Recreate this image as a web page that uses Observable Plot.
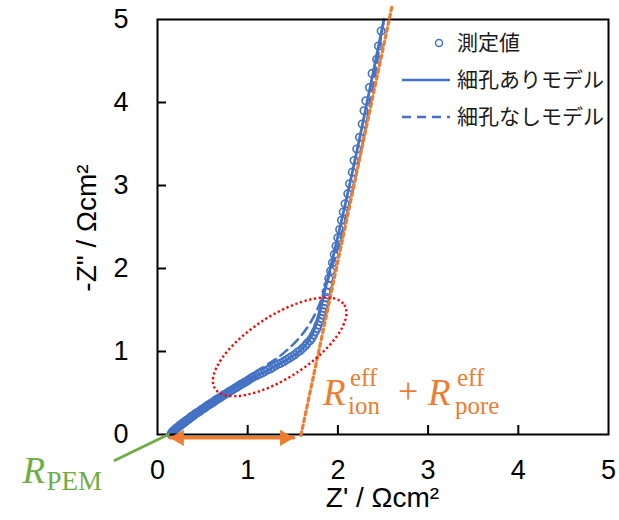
<!DOCTYPE html>
<html><head><meta charset="utf-8">
<script src="https://cdn.jsdelivr.net/npm/d3@7"></script>
<script src="https://cdn.jsdelivr.net/npm/@observablehq/plot@0.6"></script>
<style>
body{margin:0;background:#fff;}
#chart{position:relative;width:619px;height:520px;}
</style></head>
<body><div id="chart"></div>
<script>
// ---- data ----
const xTicks = [0, 1, 2, 3, 4, 5];
const yTicks = [0, 1, 2, 3, 4, 5];
const innerTicks = [1, 2, 3, 4];
const xTitle = "Z' / Ωcm²";
const yTitle = "-Z\" / Ωcm²";
const legendLabels = ["測定値", "細孔ありモデル", "細孔なしモデル"];

// measured impedance (Z', -Z'')
const measX = [0.150,0.155,0.160,0.165,0.170,0.180,0.190,0.200,0.210,0.220,0.230,0.240,0.250,0.260,0.270,0.280,0.290,0.300,0.310,0.320,
  0.330,0.340,0.350,0.360,0.370,0.380,0.390,0.400,0.415,0.430,0.445,0.460,0.475,0.490,0.505,0.520,0.535,0.550,0.565,0.580,
  0.595,0.610,0.625,0.640,0.655,0.670,0.685,0.700,0.720,0.740,0.760,0.780,0.800,0.820,0.840,0.860,0.880,0.900,0.920,0.940,
  0.960,0.980,1.000,1.020,1.040,1.055,
  1.07,1.10,1.13,1.16,1.19,1.22,1.25,1.28,1.31,1.34,1.37,1.40,1.43,1.46,1.49,1.52,1.55,1.58,1.61,1.64,1.66,
  1.69,1.71,1.73,1.75,1.77,1.78,1.80,1.81,1.82,1.83,1.84,1.85,1.86,1.87,
  1.87,1.89,1.90,1.92,1.94,1.96,1.98,2.00,2.02,2.04,2.06,2.08,2.11,2.13,2.16,2.18,2.21,2.24,2.27,2.29,
  2.31,2.35,2.38,2.43,2.45,2.48];
const measY = [0.000,0.010,0.020,0.030,0.035,0.045,0.055,0.065,0.075,0.085,0.090,0.100,0.110,0.115,0.125,0.135,0.140,0.150,0.160,0.165,
  0.175,0.180,0.190,0.200,0.210,0.215,0.225,0.230,0.245,0.255,0.265,0.275,0.285,0.300,0.310,0.320,0.330,0.345,0.355,0.365,
  0.375,0.385,0.395,0.410,0.420,0.430,0.440,0.450,0.465,0.480,0.490,0.505,0.520,0.530,0.545,0.560,0.570,0.585,0.600,0.610,
  0.625,0.635,0.650,0.665,0.680,0.690,
  0.70,0.71,0.73,0.74,0.76,0.78,0.79,0.81,0.83,0.85,0.86,0.88,0.90,0.92,0.94,0.96,0.99,1.01,1.04,1.07,1.10,
  1.13,1.16,1.20,1.24,1.28,1.32,1.36,1.40,1.44,1.48,1.52,1.56,1.60,1.65,
  1.72,1.80,1.88,1.97,2.07,2.17,2.27,2.37,2.47,2.58,2.68,2.78,2.90,3.02,3.16,3.30,3.44,3.58,3.74,3.90,
  4.02,4.18,4.35,4.52,4.68,4.86];

// model with pores (solid)
const poreX = [0.15,0.30,0.50,0.70,0.90,1.05,1.20,1.35,1.48,1.58,1.65,1.70,1.74,1.78,1.81,1.84,1.87,2.51];
const poreY = [0.00,0.15,0.31,0.46,0.59,0.68,0.76,0.85,0.93,1.01,1.09,1.17,1.27,1.39,1.52,1.67,1.80,5.00];
// model without pores (dashed)
const noPoreX = [0.15,0.30,0.50,0.70,0.90,1.05,1.20,1.35,1.48,1.60,1.69,1.76,1.82,1.87,2.51];
const noPoreY = [0.00,0.15,0.31,0.46,0.61,0.73,0.83,0.94,1.06,1.20,1.34,1.48,1.64,1.80,5.00];

// annotations
const tangentX = [1.59, 2.60];
const tangentY = [-0.01, 5.16];
const spanX = [0.14, 1.51];
const spanY = [-0.04, -0.04];
const pemLineX = [-0.47, 0.12];
const pemLineY = [-0.31, 0.00];
const ellipseAt = [1.36, 1.05];
const pemLabelAt = [-1.49, -0.59];
const resLabelAt = [1.84, 0.35];

// ---- build ----
const zip = (xs, ys) => xs.map((x, i) => ({x, y: ys[i]}));
const meas = zip(measX, measY);
const pore = zip(poreX, poreY);
const noPore = zip(noPoreX, noPoreY);
const tangent = zip(tangentX, tangentY);
const span = zip(spanX, spanY);
const pemLine = zip(pemLineX, pemLineY);

const BLUE = "#4472C4", ORANGE = "#ED7D31", GREEN = "#70AD47", RED = "#FF0000";
const W = 619, H = 520, mL = 157, mR = 11, mT = 19, mB = 86;
const plotW = W - mL - mR, plotH = H - mT - mB;
const SERIF = "'Liberation Serif', 'DejaVu Serif', serif";
const SANS = "'Liberation Sans', Arial, sans-serif";

function titleMark(index, scales, values, dims) {
  const g = d3.create("svg:g").attr("font-family", SANS).attr("fill", "#000").attr("text-anchor", "middle");
  const cx = dims.marginLeft + (dims.width - dims.marginLeft - dims.marginRight) / 2;
  g.append("text").attr("x", cx).attr("y", 507).attr("font-size", 28).text(xTitle);
  g.append("text").attr("transform", "translate(96,228) rotate(-90)").attr("font-size", 28).text(yTitle);
  return g.node();
}

function ellipseMark(index, scales) {
  const cx = scales.x(ellipseAt[0]), cy = scales.y(ellipseAt[1]);
  const g = d3.create("svg:g");
  g.append("ellipse").attr("cx", cx).attr("cy", cy).attr("rx", 77).attr("ry", 31)
    .attr("transform", `rotate(-33 ${cx} ${cy})`)
    .attr("fill", "none").attr("stroke", RED).attr("stroke-width", 2.4)
    .attr("stroke-dasharray", "2.2,2.6");
  return g.node();
}

function labelMark(index, scales) {
  const g = d3.create("svg:g").attr("font-family", SERIF).attr("text-anchor", "start");
  // R_PEM
  const px = scales.x(pemLabelAt[0]), py = scales.y(pemLabelAt[1]);
  const t1 = g.append("text").attr("fill", GREEN).attr("transform", `translate(${px},${py})`);
  t1.append("tspan").attr("x", 0).attr("y", 0).attr("font-style", "italic").attr("font-size", 37).text("R");
  t1.append("tspan").attr("x", 24).attr("y", 7).attr("font-size", 27).text("PEM");
  // R_ion^eff + R_pore^eff
  const rx = scales.x(resLabelAt[0]), ry = scales.y(resLabelAt[1]);
  const t2 = g.append("text").attr("fill", ORANGE).attr("transform", `translate(${rx},${ry})`);
  t2.append("tspan").attr("x", 0).attr("y", 0).attr("font-style", "italic").attr("font-size", 37).text("R");
  t2.append("tspan").attr("x", 27).attr("y", -19).attr("font-size", 25).text("eff");
  t2.append("tspan").attr("x", 25).attr("y", 9).attr("font-size", 25).text("ion");
  t2.append("tspan").attr("x", 75).attr("y", -2).attr("font-size", 36).text("+");
  t2.append("tspan").attr("x", 105).attr("y", 0).attr("font-style", "italic").attr("font-size", 37).text("R");
  t2.append("tspan").attr("x", 134).attr("y", -19).attr("font-size", 25).text("eff");
  t2.append("tspan").attr("x", 132).attr("y", 9).attr("font-size", 25).text("pore");
  return g.node();
}

function legendMark(index, scales, values, dims) {
  const right = dims.width - dims.marginRight;
  const x0 = right - 206, top = dims.marginTop;
  const g = d3.create("svg:g").attr("text-anchor", "start");
  const rows = [24, 61, 98];
  g.append("circle").attr("cx", x0 + 37).attr("cy", top + rows[0]).attr("r", 3.5)
    .attr("fill", "none").attr("stroke", BLUE).attr("stroke-width", 1.5);
  g.append("line").attr("x1", x0).attr("x2", x0 + 48).attr("y1", top + rows[1]).attr("y2", top + rows[1])
    .attr("stroke", BLUE).attr("stroke-width", 2.5);
  g.append("line").attr("x1", x0).attr("x2", x0 + 48).attr("y1", top + rows[2]).attr("y2", top + rows[2])
    .attr("stroke", BLUE).attr("stroke-width", 2.5).attr("stroke-dasharray", "9,6");
  legendLabels.forEach((s, i) => {
    g.append("text").attr("x", x0 + 55).attr("y", top + rows[i]).attr("dy", "0.35em")
      .attr("font-family", "'Noto Sans CJK JP', sans-serif").attr("font-size", 21)
      .attr("fill", "#1a1a1a").text(s);
  });
  return g.node();
}

const chart = Plot.plot({
  width: W, height: H,
  marginLeft: mL, marginRight: mR, marginTop: mT, marginBottom: mB,
  style: {fontFamily: SANS, background: "#fff", overflow: "visible", color: "#000"},
  x: {domain: [0, 5]},
  y: {domain: [0, 5]},
  marks: [
    Plot.axisX(xTicks, {tickSize: 0, tickPadding: 25, fontSize: 27, label: null, tickFormat: d => String(d)}),
    Plot.axisY(yTicks, {tickSize: 0, tickPadding: 29, fontSize: 27, label: null, tickFormat: d => String(d)}),
    titleMark,
    Plot.dot(meas, {x: "x", y: "y", r: 3.8, stroke: BLUE, strokeWidth: 1.6, fill: "none"}),
    Plot.line(noPore, {x: "x", y: "y", stroke: BLUE, strokeWidth: 2.5, strokeDasharray: "9,6", curve: "monotone-y"}),
    Plot.line(pore, {x: "x", y: "y", stroke: BLUE, strokeWidth: 2.8, curve: "monotone-y"}),
    Plot.frame({stroke: "#000", strokeWidth: 2}),
    Plot.tickY(innerTicks, {y: d => d, insetRight: plotW - 9, stroke: "#000", strokeWidth: 2}),
    Plot.tickX(innerTicks, {x: d => d, insetTop: plotH - 9, stroke: "#000", strokeWidth: 2}),
    Plot.line(tangent, {x: "x", y: "y", stroke: ORANGE, strokeWidth: 3.2, strokeDasharray: "3.5,3.5"}),
    ellipseMark,
    Plot.line(span, {x: "x", y: "y", stroke: ORANGE, strokeWidth: 3.5}),
    Plot.dot([span[0]], {x: "x", y: "y", symbol: "triangle", r: 6, rotate: -90, dx: 9, fill: ORANGE, stroke: "none"}),
    Plot.dot([span[1]], {x: "x", y: "y", symbol: "triangle", r: 6, rotate: 90, dx: -9, fill: ORANGE, stroke: "none"}),
    Plot.line(pemLine, {x: "x", y: "y", stroke: GREEN, strokeWidth: 3}),
    labelMark,
    legendMark
  ]
});
document.getElementById("chart").appendChild(chart);
</script>
</body></html>
